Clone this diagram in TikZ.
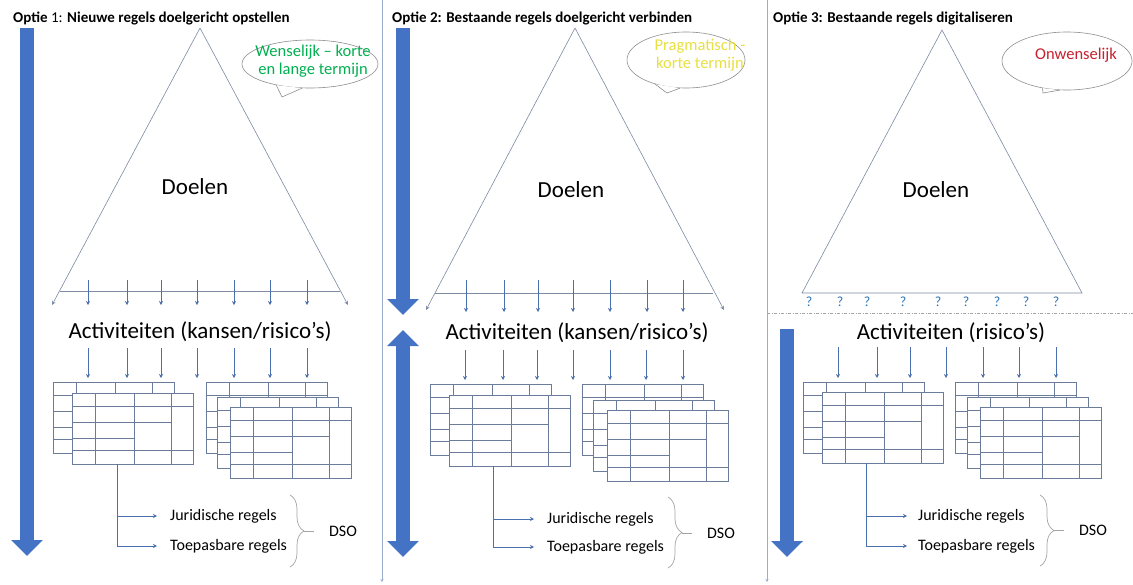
\documentclass[tikz,border=0pt]{standalone}
\usepackage{fontspec}
\setmainfont{Carlito}
\usetikzlibrary{arrows.meta,shapes.geometric,decorations.pathreplacing}

\definecolor{blauw}{HTML}{4472C4}
\definecolor{pijlblauw}{HTML}{4A70AE}
\definecolor{driehoekgrijs}{HTML}{7D8BA3}
\definecolor{tabelgrijs}{HTML}{6A7C9A}
\definecolor{scheidgrijs}{HTML}{9AAECB}
\definecolor{belgrijs}{HTML}{8E8E8E}
\definecolor{groen}{HTML}{00B050}
\definecolor{geel}{HTML}{E8E040}
\definecolor{rood}{HTML}{C8202E}
\definecolor{vraagblauw}{HTML}{2E75B6}

\tikzset{
  titel/.style={anchor=base west, inner sep=0pt, font=\fontsize{15}{18}\selectfont},
  groot/.style={font=\fontsize{23}{27}\selectfont},
  regel/.style={anchor=west, inner sep=0pt, font=\fontsize{16}{19}\selectfont},
  dso/.style={inner sep=0pt, font=\fontsize{16}{19}\selectfont},
  dunpijl/.style={draw=pijlblauw, line width=0.6pt, -{Stealth[length=4pt,width=4pt]}},
  driehoek/.style={draw=driehoekgrijs, line width=0.6pt},
  dikpijl/.style={draw=blauw, line width=14pt, -{Triangle[length=16pt,width=31pt]}},
  dubbelpijl/.style={draw=blauw, line width=14pt, {Triangle[length=16pt,width=31pt]}-{Triangle[length=16pt,width=31pt]}},
  bubbel/.style={ellipse, draw=belgrijs, line width=0.6pt, fill=white, inner sep=0pt},
  beltekst/.style={align=center, inner sep=0pt, font=\fontsize{16.5}{18.5}\selectfont},
  accolade/.style={draw=belgrijs!80, line width=0.7pt, decorate, decoration={brace, amplitude=14pt}},
  tabel/.pic={
    \draw[tabelgrijs, line width=0.6pt, fill=white] (0,0) rectangle (121,71);
    \foreach \k in {23,62,99} \draw[tabelgrijs, line width=0.6pt] (\k,0) -- (\k,71);
    \draw[tabelgrijs, line width=0.6pt] (0,13) -- (121,13) (0,29) -- (99,29) (0,45) -- (62,45) (0,57) -- (121,57);
  }
}

\begin{document}
\begin{tikzpicture}[x=1pt, y=-1pt]
  \useasboundingbox[fill=white] (0,0) rectangle (1133,584);

  % scheidingslijnen
  \draw[draw=scheidgrijs, line width=0.8pt, -{Stealth[length=3pt,width=3pt]}] (382,0) -- (382,582);
  \draw[draw=scheidgrijs, line width=0.8pt, -{Stealth[length=3pt,width=3pt]}] (767,0) -- (767,582);

  % ---------- optie 1
  \node[titel] (titel1) at (13,22) {\textbf{Optie} 1: \textbf{Nieuwe regels doelgericht opstellen}};
  \draw[dikpijl] (27,28) -- (27,556);

  \coordinate (top1) at (200,28);
  \draw[driehoek] (60,291) -- (340,291);
  \draw[driehoek, -{Stealth[length=4pt,width=4pt]}] (top1) -- (52,305);
  \draw[driehoek, -{Stealth[length=4pt,width=4pt]}] (top1) -- (348,305);
  \node[groot] (doel1) at (195,187) {Doelen};

  \node[bubbel, minimum width=136pt, minimum height=48pt] (bel1) at (310,64) {};
  \coordinate (staart1) at (282,97);
  \fill[white] (bel1.212) -- (staart1) -- (bel1.252) -- cycle;
  \draw[belgrijs, line width=0.6pt] (bel1.212) -- (staart1) -- (bel1.252);
  \node[beltekst, text=groen] (wens1) at (313,61) {Wenselijk -- korte\\en lange termijn};

  \foreach \x in {88,127,161,197,234,270,307} \draw[dunpijl] (\x,280) -- (\x,305);
  \node[groot] (act1) at (200,332) {Activiteiten (kansen/risico’s)};
  \foreach \x in {88,127,161,197,234,270,307} \draw[dunpijl] (\x,348) -- (\x,378);

  \pic at (53,382) {tabel};
  \pic at (72,393) {tabel};
  \pic at (206,382) {tabel};
  \pic at (217,397) {tabel};
  \pic at (230,407) {tabel};

  \coordinate (bron1) at (117,464);
  \node[regel] (jur1) at (170,516) {Juridische regels};
  \node[regel] (toe1) at (170,546) {Toepasbare regels};
  \draw[dunpijl, shorten >=13pt] (bron1) |- (jur1.west);
  \draw[dunpijl, shorten >=13pt] (bron1) |- (toe1.west);
  \draw[accolade] (290,495) -- (290,567);
  \coordinate (punt1) at (304,531);
  \node[dso] (dso1) at (343,531) {DSO};
  \draw[belgrijs!80, line width=0.7pt, shorten >=15pt] (punt1) -- (dso1.west);

  % ---------- optie 2
  \node[titel] (titel2) at (392,22) {\textbf{Optie 2: Bestaande regels doelgericht verbinden}};
  \draw[dikpijl] (403,28) -- (403,315);
  \draw[dubbelpijl] (403,330) -- (403,557);

  \coordinate (top2) at (575,28);
  \draw[driehoek] (435,293) -- (713,293);
  \draw[driehoek, -{Stealth[length=4pt,width=4pt]}] (top2) -- (426,310);
  \draw[driehoek, -{Stealth[length=4pt,width=4pt]}] (top2) -- (724,310);
  \node[groot] (doel2) at (571,190) {Doelen};

  \node[bubbel, minimum width=118pt, minimum height=56pt] (bel2) at (686,60) {};
  \coordinate (staart2) at (667,93);
  \fill[white] (bel2.218) -- (staart2) -- (bel2.258) -- cycle;
  \draw[belgrijs, line width=0.6pt] (bel2.218) -- (staart2) -- (bel2.258);
  \node[beltekst, text=geel] (wens2) at (700,55) {Pragmatisch -\\korte termijn};

  \foreach \x in {466,504,538,573,610,647,683} \draw[dunpijl] (\x,280) -- (\x,312);
  \node[groot] (act2) at (577,333) {Activiteiten (kansen/risico’s)};
  \foreach \x in {465,503,537,573,610,646,683} \draw[dunpijl] (\x,350) -- (\x,380);

  \pic at (430,384) {tabel};
  \pic at (449,395) {tabel};
  \pic at (582,384) {tabel};
  \pic at (593,400) {tabel};
  \pic at (607,410) {tabel};

  \coordinate (bron2) at (493,466);
  \node[regel] (jur2) at (547,519) {Juridische regels};
  \node[regel] (toe2) at (547,547) {Toepasbare regels};
  \draw[dunpijl, shorten >=13pt] (bron2) |- (jur2.west);
  \draw[dunpijl, shorten >=13pt] (bron2) |- (toe2.west);
  \draw[accolade] (668,497) -- (668,568);
  \coordinate (punt2) at (682,533);
  \node[dso] (dso2) at (721,533) {DSO};
  \draw[belgrijs!80, line width=0.7pt, shorten >=15pt] (punt2) -- (dso2.west);

  % ---------- optie 3
  \node[titel] (titel3) at (773,22) {\textbf{Optie 3: Bestaande regels digitaliseren}};
  \draw[dikpijl] (787,329) -- (787,557);

  \coordinate (top3) at (942,30);
  \draw[driehoek] (top3) -- (802,293) -- (1082,293) -- cycle;
  \node[groot] (doel3) at (936,190) {Doelen};
  \foreach \x in {809,840,867,903,938,966,997,1026,1056}
    \node[text=vraagblauw, inner sep=0pt, font=\fontsize{14}{16}\selectfont] (vraag\x) at (\x,302) {?};
  \draw[draw=gray!70, line width=0.6pt, dash pattern=on 3pt off 1.5pt on 1pt off 1.5pt] (767,313) -- (1133,313);

  \node[bubbel, minimum width=130pt, minimum height=58pt] (bel3) at (1067,61) {};
  \coordinate (staart3) at (1043,93);
  \fill[white] (bel3.228) -- (staart3) -- (bel3.256) -- cycle;
  \draw[belgrijs, line width=0.6pt] (bel3.228) -- (staart3) -- (bel3.256);
  \node[beltekst, text=rood] (wens3) at (1076,55) {Onwenselijk};

  \node[groot] (act3) at (951,333) {Activiteiten (risico’s)};
  \foreach \x in {838,877,910,946,983,1019,1056} \draw[dunpijl] (\x,347) -- (\x,378);

  \pic at (803,382) {tabel};
  \pic at (822,392) {tabel};
  \pic at (955,382) {tabel};
  \pic at (967,397) {tabel};
  \pic at (980,407) {tabel};

  \coordinate (bron3) at (866,463);
  \node[regel] (jur3) at (918,516) {Juridische regels};
  \node[regel] (toe3) at (918,546) {Toepasbare regels};
  \draw[dunpijl, shorten >=11pt] (bron3) |- (jur3.west);
  \draw[dunpijl, shorten >=11pt] (bron3) |- (toe3.west);
  \draw[accolade] (1040,495) -- (1040,566);
  \coordinate (punt3) at (1054,530);
  \node[dso] (dso3) at (1093,530) {DSO};
  \draw[belgrijs!80, line width=0.7pt, shorten >=15pt] (punt3) -- (dso3.west);
\end{tikzpicture}
\end{document}
